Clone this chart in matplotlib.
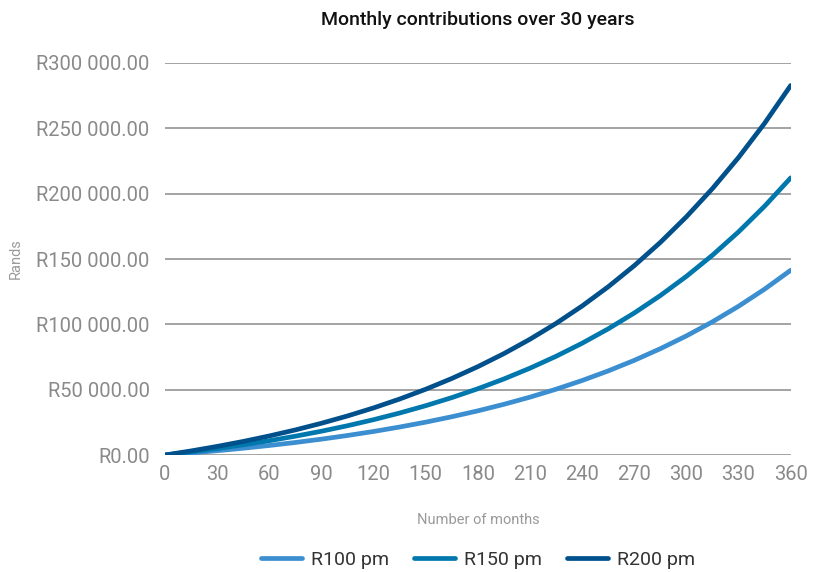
import matplotlib.pyplot as plt
from matplotlib.ticker import FuncFormatter

plt.rcParams['font.family'] = ['Roboto', 'DejaVu Sans']

# accumulated value at 15-month steps
months = [0, 15, 30, 45, 60, 75, 90, 105, 120, 135, 150, 165, 180,
          195, 210, 225, 240, 255, 270, 285, 300, 315, 330, 345, 360]
r100 = [0, 1570, 3300, 5200, 7300, 9610, 12150, 14950, 18030, 21430,
        25160, 29280, 33810, 38810, 44300, 50360, 57030, 64370, 72450,
        81360, 91160, 101960, 113850, 126950, 141390]
r150 = [0, 2355, 4950, 7800, 10950, 14410, 18220, 22420, 27050, 32140,
        37750, 43920, 50720, 58210, 66460, 75540, 85540, 96550, 108680,
        122040, 136740, 152940, 170780, 190430, 212090]
r200 = [0, 3140, 6600, 10400, 14600, 19210, 24300, 29900, 36060, 42850,
        50330, 58560, 67630, 77610, 88610, 100720, 114050, 128740, 144910,
        162710, 182330, 203920, 227700, 253900, 282780]

series = [('R100 pm', r100, '#3b8fd0'),
          ('R150 pm', r150, '#0078ae'),
          ('R200 pm', r200, '#00508c')]

fig = plt.figure(figsize=(8.16, 5.72), dpi=100)
ax = fig.add_axes([0.2022, 0.2045, 0.7668, 0.6854])

for label, vals, col in series:
    ax.plot(months, vals, color=col, lw=3.4, label=label,
            solid_capstyle='round', zorder=3)

ax.set_xlim(0, 360)
ax.set_ylim(0, 300000)
ax.set_xticks(range(0, 361, 30))
ax.set_yticks(range(0, 300001, 50000))

def rand_fmt(v, pos):
    return 'R' + f'{v:,.2f}'.replace(',', ' ')

ax.yaxis.set_major_formatter(FuncFormatter(rand_fmt))
ax.grid(axis='y', color='#8a8a8a', lw=1.1, zorder=1)
ax.set_axisbelow(True)
for s in ax.spines.values():
    s.set_visible(False)
ax.tick_params(axis='both', length=0, labelcolor='#8a8a8a', labelsize=14.5)
ax.tick_params(axis='y', pad=11)
ax.tick_params(axis='x', pad=7)

ax.set_title('Monthly contributions over 30 years', fontsize=14,
             fontweight='medium', color='#111111', pad=27)
ax.set_xlabel('Number of months', fontsize=10.5, color='#9a9a9a', labelpad=21)
ax.set_ylabel('Rands', fontsize=10.5, color='#9a9a9a', labelpad=10)

# legend sits under the plot, centred on the axes
leg_y = ax.transAxes.inverted().transform(
    fig.transFigure.transform((0, 1 - 560 / 572)))[1]
leg = ax.legend(loc='center', bbox_to_anchor=(0.5, leg_y), ncol=3,
                frameon=False, fontsize=14, handlelength=2.1,
                columnspacing=1.3, handletextpad=0.45)
for t in leg.get_texts():
    t.set_color('#333333')

fig.savefig('out.png', dpi=100)
